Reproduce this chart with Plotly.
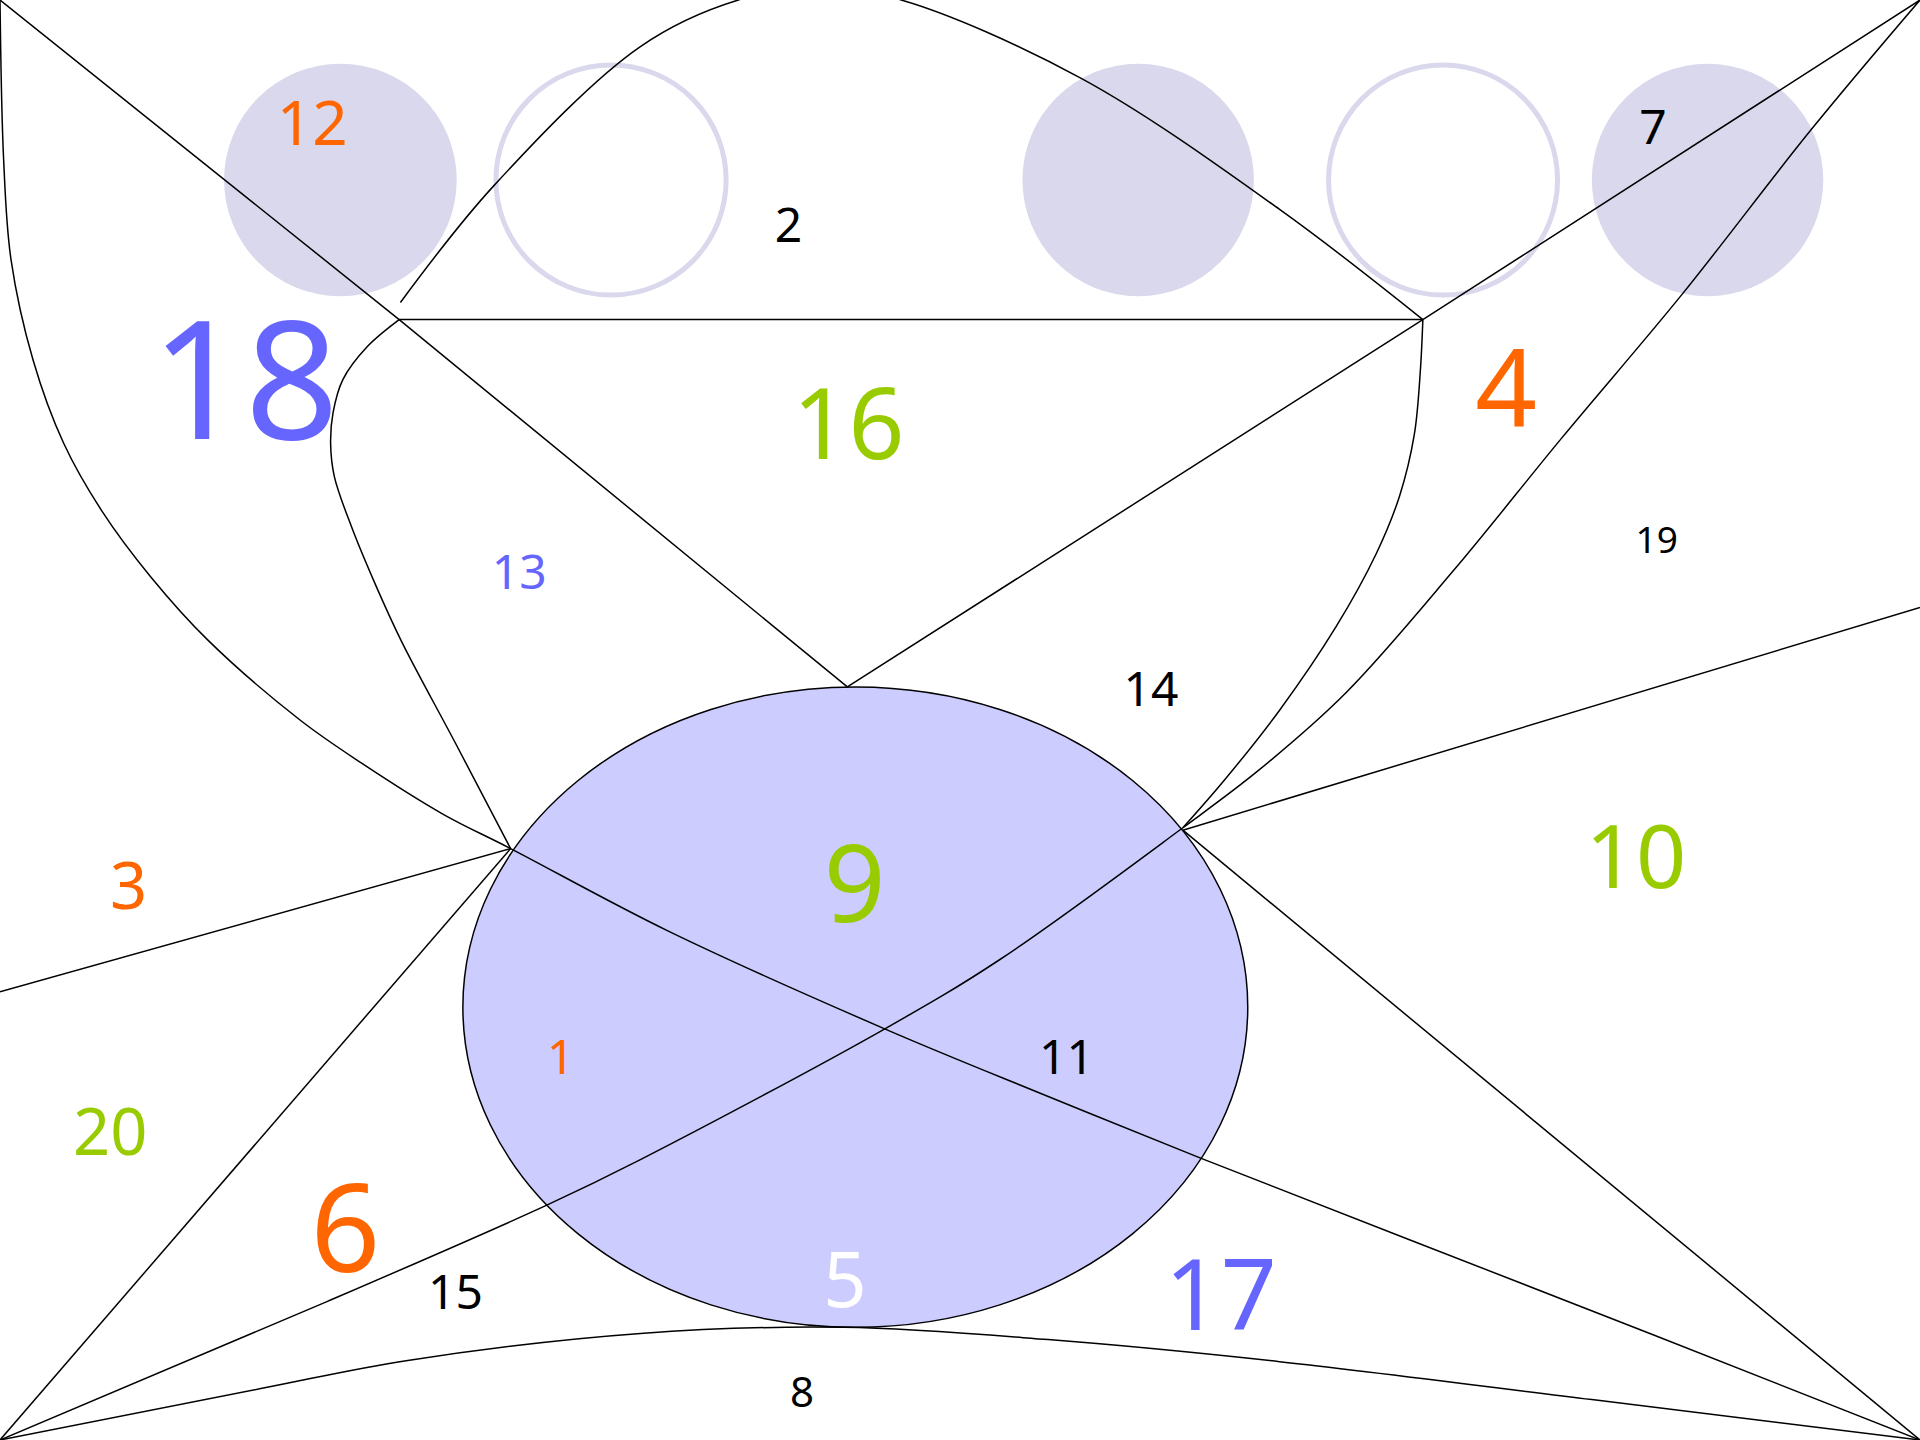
import plotly.graph_objects as go

# Canvas coordinate system (drawing units); figure is 1920x1440 px
W, H = 1568, 1176
PX_PER_UNIT = 1920 / W

# ---- outlines (polylines / curves) ----
diag_tl_x = [0, 326, 692]
diag_tl_y = [0, 261, 561]

horiz_x = [326, 1162]
horiz_y = [261, 261]

diag_tr_x = [1568, 1162, 692]
diag_tr_y = [0, 261, 561]

arch_x = [327, 403, 523, 603, 670, 736, 883, 1045, 1162]
arch_y = [247, 152, 38, 0, -10, 0, 64, 171, 261]

loop_x = [326, 300, 280, 272, 270, 273, 287, 306, 328, 372, 417]
loop_y = [261, 283, 310, 337, 362, 389, 430, 476, 524, 607, 693]

sweep_x = [0, 3, 9, 27, 52, 83, 123, 170, 245, 295, 362, 417, 545, 722, 850, 981, 1150, 1350, 1568]
sweep_y = [0, 131, 212, 294, 362, 417, 471, 523, 588, 623, 665, 693, 760, 840, 893, 946, 1012, 1090, 1176]

left_mid_x = [417, 0]
left_mid_y = [693, 810]

left_low_x = [417, 0]
left_low_y = [693, 1176]

rise_x = [0, 267, 447, 523, 723, 816, 966, 1028, 1099, 1187, 1276, 1374, 1479, 1568]
rise_y = [1176, 1063, 984, 947, 840, 784, 676, 629, 566, 466, 357, 240, 106, 0]

hook_x = [1162, 1160, 1155, 1143, 1124, 1091, 1045, 1000, 966]
hook_y = [261, 302, 355, 405, 452, 512, 580, 637, 676]

right_mid_x = [966, 1568]
right_mid_y = [678, 496]

right_low_x = [966, 1568]
right_low_y = [678, 1176]

bottom_x = [0, 213, 333, 523, 689, 856, 1045, 1300, 1568]
bottom_y = [1176, 1134, 1111, 1089, 1084, 1094, 1112, 1143, 1176]

curves = [
    (diag_tl_x, diag_tl_y, "linear"),
    (horiz_x, horiz_y, "linear"),
    (diag_tr_x, diag_tr_y, "linear"),
    (arch_x, arch_y, "spline"),
    (loop_x, loop_y, "spline"),
    (sweep_x, sweep_y, "spline"),
    (left_mid_x, left_mid_y, "linear"),
    (left_low_x, left_low_y, "linear"),
    (rise_x, rise_y, "spline"),
    (hook_x, hook_y, "spline"),
    (right_mid_x, right_mid_y, "linear"),
    (right_low_x, right_low_y, "linear"),
    (bottom_x, bottom_y, "spline"),
]

# ---- circles: (x0, y0, x1, y1) ----
disc_boxes = [(183, 52, 373, 242), (835, 52, 1024, 242), (1300, 52, 1489, 242)]
ring_boxes = [(405, 53, 593, 241), (1085, 53, 1272, 241)]
big_ellipse = (378, 561, 1019, 1084)

# ---- region numbers ----
labels = ["12", "2", "7", "18", "16", "4", "13", "19", "14", "9",
          "10", "3", "20", "1", "11", "6", "15", "5", "17", "8"]
label_x = [255, 644, 1350, 200, 693, 1230, 424, 1353, 940, 698,
           1336, 105, 90, 458, 871, 282, 372, 690, 997, 655]
label_y = [101, 184, 104, 312, 347, 318, 467, 441, 563, 722,
           700, 724, 925, 863, 863, 1004, 1055, 1046, 1058, 1137]
label_size = [62, 48, 48, 164, 98, 108, 48, 37, 48, 108,
              88, 65, 65, 48, 48, 122, 48, 76, 98, 42]
ORANGE, GREEN, BLUE, BLACK, WHITE = "#FF6600", "#99CC00", "#6666FF", "#000000", "#FFFFFF"
label_color = [ORANGE, BLACK, BLACK, BLUE, GREEN, ORANGE, BLUE, BLACK, BLACK, GREEN,
               GREEN, ORANGE, GREEN, ORANGE, BLACK, ORANGE, BLACK, WHITE, BLUE, BLACK]

LAV = "rgb(218,216,236)"

fig = go.Figure()

shapes = []
for (x0, y0, x1, y1) in disc_boxes:
    shapes.append(dict(type="circle", xref="x", yref="y", x0=x0, y0=y0, x1=x1, y1=y1,
                       fillcolor=LAV, line=dict(width=0), layer="below"))
for (x0, y0, x1, y1) in ring_boxes:
    shapes.append(dict(type="circle", xref="x", yref="y", x0=x0, y0=y0, x1=x1, y1=y1,
                       fillcolor="rgba(0,0,0,0)", line=dict(color=LAV, width=5), layer="below"))
x0, y0, x1, y1 = big_ellipse
shapes.append(dict(type="circle", xref="x", yref="y", x0=x0, y0=y0, x1=x1, y1=y1,
                   fillcolor="#CCCCFF", line=dict(color="black", width=1.5), layer="below"))

for cx, cy, shp in curves:
    fig.add_trace(go.Scatter(x=cx, y=cy, mode="lines",
                             line=dict(color="black", width=1.5, shape=shp, smoothing=1.0),
                             hoverinfo="skip", showlegend=False, cliponaxis=True))

# text boxes are centred on the line box; nudge down so digit centres sit on the anchor
text_y = [y + 0.1 * s / PX_PER_UNIT for y, s in zip(label_y, label_size)]
fig.add_trace(go.Scatter(x=label_x, y=text_y, mode="text", text=labels,
                         textposition="middle center",
                         textfont=dict(size=label_size, color=label_color,
                                       family="Comic Sans MS, Noto Sans, sans-serif"),
                         hoverinfo="skip", showlegend=False))

fig.update_layout(
    width=1920, height=1440,
    margin=dict(l=0, r=0, t=0, b=0, pad=0),
    paper_bgcolor="white", plot_bgcolor="white",
    shapes=shapes,
    xaxis=dict(range=[0, W], visible=False, showgrid=False, zeroline=False, fixedrange=True),
    yaxis=dict(range=[H, 0], visible=False, showgrid=False, zeroline=False, fixedrange=True),
    showlegend=False,
)

fig.write_html("out.html", config={"displayModeBar": False},
               post_script="document.body.style.margin='0';document.body.style.padding='0';")
